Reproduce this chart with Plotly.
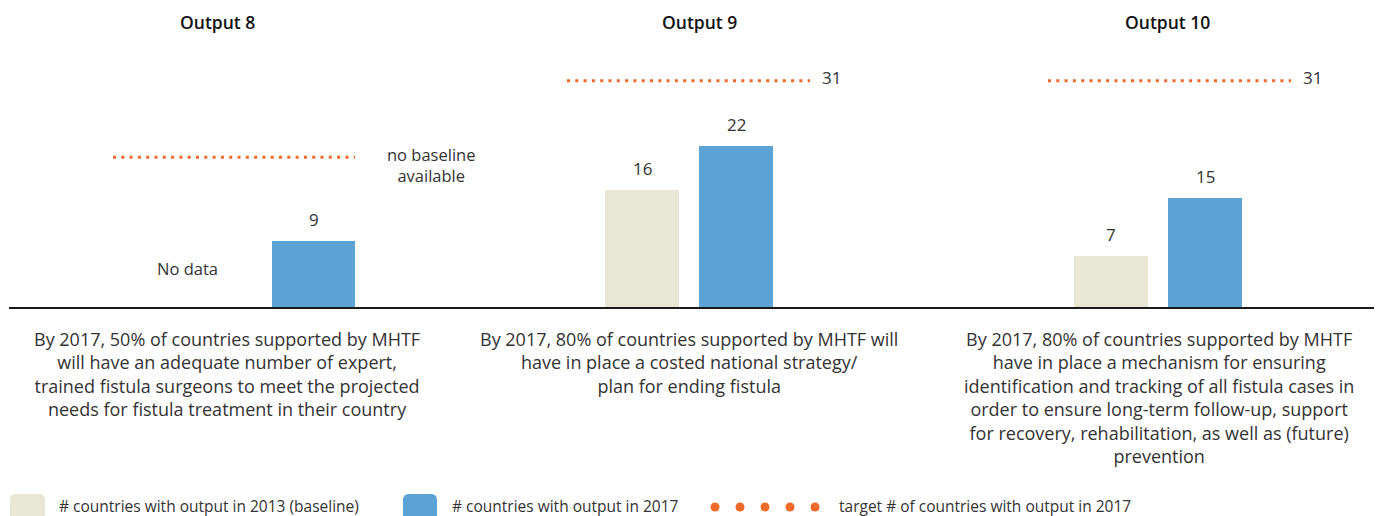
import plotly.graph_objects as go

# ---- data -------------------------------------------------------------
outputs = ["Output 8", "Output 9", "Output 10"]
bar_categories = ["2013 (baseline)", "2017"]
countries_2013 = [None, 16, 7]          # baseline, no data for Output 8
countries_2017 = [9, 22, 15]
targets_2017 = [20.5, 31, 31]
target_labels = ["", "31", "31"]
descriptions = [
    "By 2017, 50% of countries supported by MHTF<br>will have an adequate number of expert,<br>"
    "trained fistula surgeons to meet the projected<br>needs for fistula treatment in their country",
    "By 2017, 80% of countries supported by MHTF will<br>have in place a costed national strategy/<br>"
    "plan for ending fistula",
    "By 2017, 80% of countries supported by MHTF<br>have in place a mechanism for ensuring<br>"
    "identification and tracking of all fistula cases in<br>order to ensure long-term follow-up, support<br>"
    "for recovery, rehabilitation, as well as (future)<br>prevention",
]
legend_labels = [
    "# countries with output in 2013 (baseline)",
    "# countries with output in 2017",
    "target # of countries with output in 2017",
]

# ---- styling ----------------------------------------------------------
W, H = 1377, 516
FONT = "Open Sans"
BEIGE = "#E8E6D4"
BLUE = "#5CA3D6"
ORANGE = "#F26A2A"
TEXT = "#333333"

# per-panel geometry in pixels: domain, centre of first bar, px per unit,
# bar width, horizontal extent of the target line
panels = [
    dict(dom=(9, 460), c0=208.5, ppu=105, bw=83, span=(113, 355), title_x=217, desc_x=227),
    dict(dom=(460, 920), c0=642, ppu=94, bw=74, span=(567, 810), title_x=699, desc_x=689),
    dict(dom=(920, 1374), c0=1111, ppu=94, bw=74, span=(1048, 1291), title_x=1167, desc_x=1159),
]
BASE_PX = 307           # pixel row of the zero line
TOP_PX = 60
PX_PER_COUNT = 7.3


def px_x(px):
    return px / W


def px_y(py):
    return (H - py) / H


fig = go.Figure()
annotations = []
shapes = []

xpos = list(range(len(bar_categories)))

for i, p in enumerate(panels):
    sfx = "" if i == 0 else str(i + 1)
    xa, ya = "x" + sfx, "y" + sfx
    to_unit = lambda px, p=p: (px - p["c0"]) / p["ppu"]
    bw = p["bw"] / p["ppu"]

    vals = [countries_2013[i], countries_2017[i]]
    colors = [BEIGE, BLUE]
    for j, v in enumerate(vals):
        if v is None:
            continue
        fig.add_trace(go.Bar(
            x=[xpos[j]], y=[v], width=bw, marker=dict(color=colors[j], line=dict(width=0)),
            name=bar_categories[j], showlegend=False, xaxis=xa, yaxis=ya, hoverinfo="y",
        ))
        annotations.append(dict(
            x=xpos[j], y=v, xref=xa, yref=ya, text=str(v), showarrow=False,
            yanchor="bottom", yshift=8, font=dict(family=FONT, size=17, color=TEXT),
        ))

    # target line
    xs, xe = to_unit(p["span"][0]), to_unit(p["span"][1])
    t = targets_2017[i]
    fig.add_trace(go.Scatter(
        x=[xs, xe], y=[t, t], mode="lines", showlegend=False, xaxis=xa, yaxis=ya,
        line=dict(color=ORANGE, width=3, dash="3px,5.3px"), hoverinfo="skip",
    ))
    if target_labels[i]:
        annotations.append(dict(
            x=xe, y=t, xref=xa, yref=ya, text=target_labels[i], showarrow=False,
            xanchor="left", xshift=10, yanchor="middle", yshift=3,
            font=dict(family=FONT, size=17, color=TEXT),
        ))

    if countries_2013[i] is None:
        annotations.append(dict(
            x=xpos[0], y=0, xref=xa, yref=ya, text="No data", showarrow=False,
            xshift=-21, yanchor="middle", yshift=39,
            font=dict(family=FONT, size=16.5, color=TEXT),
        ))
        annotations.append(dict(
            x=xe, y=t, xref=xa, yref=ya, text="no baseline<br>available", showarrow=False,
            xanchor="left", xshift=30, yanchor="middle", yshift=-8, align="center",
            font=dict(family=FONT, size=16.5, color=TEXT),
        ))

    axis_x = dict(
        domain=[px_x(p["dom"][0]), px_x(p["dom"][1])],
        range=[to_unit(p["dom"][0]), to_unit(p["dom"][1])],
        showline=True, linecolor="#1a1a1a", linewidth=1.6,
        showticklabels=False, ticks="", showgrid=False, zeroline=False, fixedrange=True,
        anchor=ya,
    )
    axis_y = dict(
        domain=[px_y(BASE_PX), px_y(TOP_PX)],
        range=[0, (BASE_PX - TOP_PX) / PX_PER_COUNT],
        visible=False, showgrid=False, zeroline=False, fixedrange=True, anchor=xa,
    )
    fig.layout["xaxis" + sfx] = axis_x
    fig.layout["yaxis" + sfx] = axis_y

    # panel title and description
    annotations.append(dict(
        x=px_x(p["title_x"]), y=px_y(22), xref="paper", yref="paper", text=outputs[i],
        showarrow=False, xanchor="center", yanchor="middle",
        font=dict(family=FONT, size=17.5, color="#111111", weight=600),
    ))
    annotations.append(dict(
        x=px_x(p["desc_x"]), y=px_y(325), xref="paper", yref="paper", text=descriptions[i],
        showarrow=False, xanchor="center", yanchor="top", align="center",
        font=dict(family=FONT, size=18, color=TEXT),
    ))


# ---- legend -----------------------------------------------------------
def rounded_rect(left, top, right, bottom, r):
    """Rounded rectangle path from pixel coordinates (y measured from the top)."""
    x0, x1 = px_x(left), px_x(right)
    yt, yb = px_y(top), px_y(bottom)
    rx, ry = r / W, r / H
    return (f"M {x0 + rx},{yt} L {x1 - rx},{yt} Q {x1},{yt} {x1},{yt - ry} "
            f"L {x1},{yb + ry} Q {x1},{yb} {x1 - rx},{yb} L {x0 + rx},{yb} "
            f"Q {x0},{yb} {x0},{yb + ry} L {x0},{yt - ry} Q {x0},{yt} {x0 + rx},{yt} Z")


LEG_Y = 506
for (x0, x1), col in [((10, 45), BEIGE), ((403, 437), BLUE)]:
    shapes.append(dict(
        type="path", xref="paper", yref="paper", line=dict(width=0), fillcolor=col,
        path=rounded_rect(x0, 494, x1, 524, 6),
    ))
for cx in [715, 740, 765, 790, 815]:
    shapes.append(dict(
        type="circle", xref="paper", yref="paper", line=dict(width=0), fillcolor=ORANGE,
        x0=px_x(cx - 4.5), x1=px_x(cx + 4.5), y0=px_y(507 + 4.5), y1=px_y(507 - 4.5),
    ))
for lx, lab in zip([57, 450, 837], legend_labels):
    annotations.append(dict(
        x=px_x(lx), y=px_y(LEG_Y), xref="paper", yref="paper", text=lab, showarrow=False,
        xanchor="left", yanchor="middle", font=dict(family=FONT, size=15.5, color=TEXT),
    ))

fig.update_layout(
    width=W, height=H, margin=dict(l=0, r=0, t=0, b=0),
    paper_bgcolor="white", plot_bgcolor="white", showlegend=False,
    annotations=annotations, shapes=shapes, bargap=0,
)

fig.write_html("out.html")
